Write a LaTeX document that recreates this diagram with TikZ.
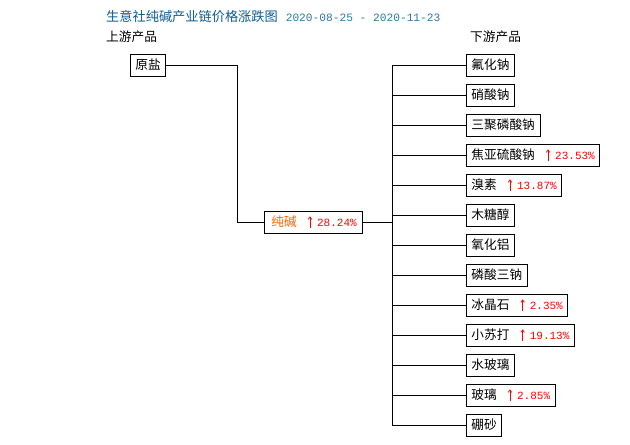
\documentclass[tikz,border=0pt]{standalone}
\usepackage{fontspec}
\setmainfont{Noto Sans CJK SC}
\newfontfamily\mono{Liberation Mono}
\usetikzlibrary{arrows.meta}
\definecolor{titleblue}{HTML}{0F5C8F}
\definecolor{dateblue}{HTML}{2F77A8}
\definecolor{upred}{HTML}{FF0000}
\definecolor{chunorange}{HTML}{FF6600}
\newcommand\uparr{\tikz[baseline=1pt]\draw[upred,line width=0.7pt,-{Straight Barb[length=2.5pt,width=3.6pt]}] (0pt,0pt)--(0pt,11.5pt);}
\newcommand\rise[1]{\hspace{11pt}\uparr\hspace{5pt}{\mono\fontsize{11}{12}\selectfont\color{upred}#1}\hspace{1pt}}
\begin{document}
\begin{tikzpicture}[x=1pt,y=-1pt,
  box/.style={draw,line width=0.8pt,minimum height=22pt,inner xsep=5pt,inner ysep=0pt,anchor=west,font=\fontsize{12.7}{14}\selectfont},
  link/.style={line width=0.8pt},
  head/.style={anchor=west,inner sep=0pt,font=\fontsize{12.7}{14}\selectfont}]
\useasboundingbox[fill=white] (0,0) rectangle (630,445);
% title
\node[anchor=west,inner sep=0pt] (title) at (106,16)
  {{\color{titleblue}\fontsize{13.2}{15}\selectfont 生意社纯碱产业链价格涨跌图}\hspace{8pt}{\mono\fontsize{11.2}{12}\selectfont\color{dateblue}2020-08-25 - 2020-11-23}};
\node[head] (up) at (106,37) {上游产品};
\node[head] (down) at (470,37) {下游产品};
% upstream
\node[box] (yuan) at (130,65) {原盐};
% center
\node[box] (chun) at (264,222) {\hspace{2pt}{\color{chunorange}纯碱}\rise{28.24\%}\hspace{4pt}};
% downstream
\node[box] (d0) at (466,65) {氟化钠};
\node[box] (d1) at (466,95) {硝酸钠};
\node[box] (d2) at (466,125) {三聚磷酸钠};
\node[box] (d3) at (466,155) {焦亚硫酸钠\rise{23.53\%}};
\node[box] (d4) at (466,185) {溴素\rise{13.87\%}};
\node[box] (d5) at (466,215) {木糖醇};
\node[box] (d6) at (466,245) {氧化铝};
\node[box] (d7) at (466,275) {磷酸三钠};
\node[box] (d8) at (466,305) {冰晶石\rise{2.35\%}};
\node[box] (d9) at (466,335) {小苏打\rise{19.13\%}};
\node[box] (d10) at (466,365) {水玻璃};
\node[box] (d11) at (466,395) {玻璃\rise{2.85\%}};
\node[box] (d12) at (466,425) {硼砂};
% connectors
\coordinate (bx) at (237,0);
\coordinate (tx) at (392,0);
\draw[link] (yuan.east) -- (yuan.east -| bx) |- (chun.west);
\draw[link] (chun.east) -- (chun.east -| tx);
\draw[link] (d0.west -| tx) -- (d12.west -| tx);
\foreach \i in {0,...,12}{\draw[link] (d\i.west) -- (d\i.west -| tx);}
\end{tikzpicture}
\end{document}
